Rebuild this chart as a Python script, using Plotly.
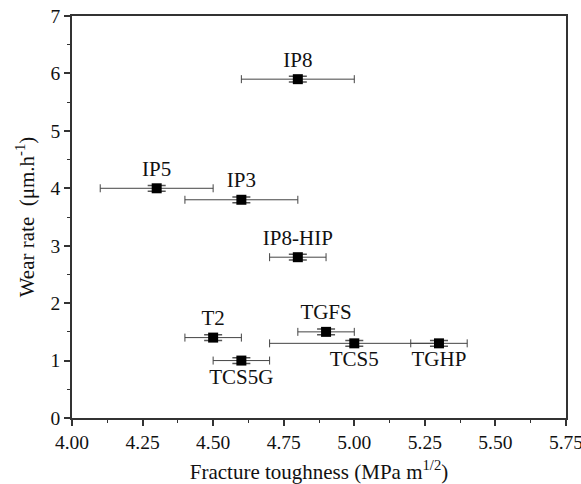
import plotly.graph_objects as go

names = ["IP8", "IP5", "IP3", "IP8-HIP", "T2", "TCS5G", "TGFS", "TCS5", "TGHP"]
toughness = [4.8, 4.3, 4.6, 4.8, 4.5, 4.6, 4.9, 5.0, 5.3]
toughness_err = [0.2, 0.2, 0.2, 0.1, 0.1, 0.1, 0.1, 0.3, 0.1]
wear = [5.9, 4.0, 3.8, 2.8, 1.4, 1.0, 1.5, 1.3, 1.3]
wear_err = [0.05, 0.05, 0.05, 0.05, 0.05, 0.05, 0.05, 0.05, 0.05]
label_pos = ["top center", "top center", "top center", "top center", "top center",
             "bottom center", "top center", "bottom center", "bottom center"]
x_ticks = [4.0, 4.25, 4.5, 4.75, 5.0, 5.25, 5.5, 5.75]
x_ticktext = ["4.00", "4.25", "4.50", "4.75", "5.00", "5.25", "5.50", "5.75"]

font = "Liberation Serif"

fig = go.Figure()
fig.add_trace(go.Scatter(
    x=toughness, y=wear, mode="markers+text",
    text=names, textposition=label_pos,
    textfont=dict(family=font, size=21, color="#111"),
    marker=dict(symbol="square", size=10, color="black"),
    error_x=dict(type="data", array=toughness_err, color="#444", thickness=1, width=4),
    error_y=dict(type="data", array=wear_err, color="#555", thickness=1.5, width=9),
    showlegend=False,
))

axis_common = dict(
    showline=True, linecolor="#333", linewidth=1.5, mirror=True,
    ticks="outside", ticklen=6, tickwidth=1.5, tickcolor="#333",
    showgrid=False, zeroline=False, automargin=False, ticklabeloverflow="allow",
    tickfont=dict(family=font, size=19.5, color="#111"),
    minor=dict(ticks="outside", ticklen=3, tickwidth=1.2, tickcolor="#333"),
)

fig.update_xaxes(range=[4.0, 5.75], tickvals=x_ticks, ticktext=x_ticktext,
                 minor_dtick=0.125, minor_tick0=4.0,
                 title=dict(text="Fracture toughness (MPa m<sup>1/2</sup>)",
                            font=dict(family=font, size=21, color="#111"), standoff=12),
                 **axis_common)
fig.update_yaxes(range=[0, 7], dtick=1, minor_dtick=0.5, minor_tick0=0,
                 title=dict(text="Wear rate  (μm.h<sup>-1</sup>)",
                            font=dict(family=font, size=21, color="#111"), standoff=10),
                 **axis_common)

fig.update_layout(
    width=581, height=484,
    margin=dict(l=72, r=15, t=16, b=66),
    plot_bgcolor="white", paper_bgcolor="white",
    font=dict(family=font),
)

fig.write_html("out.html", config={"displayModeBar": False},
               post_script="document.body.style.margin='0';")
